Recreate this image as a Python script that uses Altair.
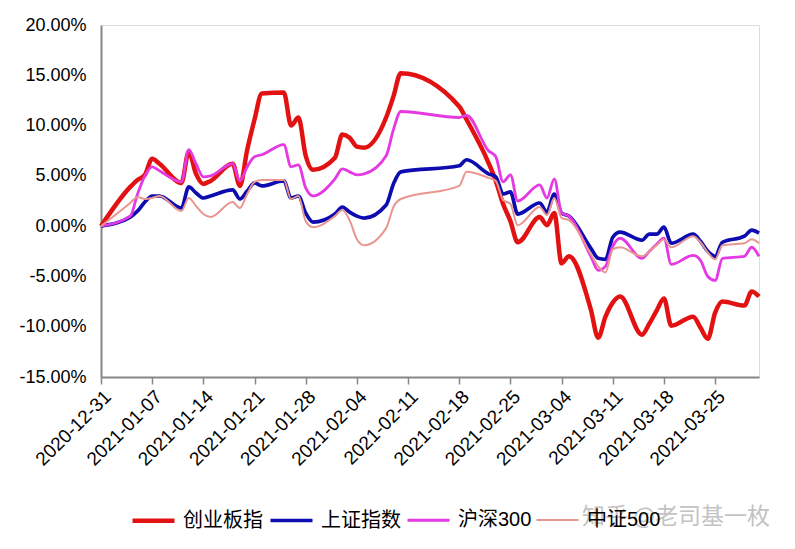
import altair as alt
import pandas as pd

dates = ["2020-12-31",
         "2021-01-04", "2021-01-05", "2021-01-06", "2021-01-07", "2021-01-08",
         "2021-01-11", "2021-01-12", "2021-01-13", "2021-01-14", "2021-01-15",
         "2021-01-18", "2021-01-19", "2021-01-20", "2021-01-21", "2021-01-22",
         "2021-01-25", "2021-01-26", "2021-01-27", "2021-01-28", "2021-01-29",
         "2021-02-01", "2021-02-02", "2021-02-03", "2021-02-04", "2021-02-05",
         "2021-02-08", "2021-02-09", "2021-02-10",
         "2021-02-18", "2021-02-19",
         "2021-02-22", "2021-02-23", "2021-02-24", "2021-02-25", "2021-02-26",
         "2021-03-01", "2021-03-02", "2021-03-03", "2021-03-04", "2021-03-05",
         "2021-03-08", "2021-03-09", "2021-03-10", "2021-03-11", "2021-03-12",
         "2021-03-15", "2021-03-16", "2021-03-17", "2021-03-18", "2021-03-19",
         "2021-03-22", "2021-03-23", "2021-03-24", "2021-03-25", "2021-03-26",
         "2021-03-29", "2021-03-30", "2021-03-31"]

series_names = ["创业板指", "上证指数", "沪深300", "中证500"]

# percent values
cyb = [0,
       3.9, 4.6, 5.1, 6.7, 6.2,
       4.3, 7.4, 5.2, 4.2, 4.5,
       6.2, 4.0, 7.6, 10.6, 13.2,
       13.3, 10.0, 10.8, 7.0, 5.6,
       6.8, 9.1, 8.8, 7.9, 7.8,
       10.8, 12.9, 15.2,
       11.9, 10.6,
       6.3, 4.5, 2.2, 0.5, -1.6,
       0.9, 0.1, 1.3, -3.7, -3.0,
       -8.3, -11.1, -9.0, -7.6, -7.0,
       -10.8, -9.7, -8.4, -7.2, -9.9,
       -9.0, -10.1, -11.2, -8.6, -7.5,
       -7.9, -6.5, -7.0]
sh = [0,
      0.9, 1.5, 2.4, 3.0, 3.0,
      1.8, 3.9, 3.3, 2.8, 3.0,
      3.6, 2.7, 3.5, 4.3, 4.0,
      4.5, 2.8, 3.0, 1.3, 0.4,
      1.2, 1.9, 1.4, 1.0, 0.8,
      2.1, 4.2, 5.4,
      6.0, 6.6,
      5.2, 4.9, 3.2, 3.4, 1.2,
      2.3, 1.4, 3.2, 1.3, 1.0,
      -2.2, -3.2, -3.3, -1.1, -0.6,
      -1.4, -0.8, -0.8, -0.1, -1.7,
      -0.8, -1.5, -2.5, -3.0, -1.6,
      -1.0, -0.4, -0.7]
hs300 = [0,
         1.0, 3.2, 5.0, 5.9, 5.5,
         4.4, 7.6, 6.2, 4.9, 5.0,
         6.2, 4.5, 5.9, 6.9, 7.1,
         8.1, 5.9, 6.1, 3.8, 3.0,
         4.7, 5.7, 5.4, 5.1, 5.2,
         7.0, 9.6, 11.4,
         10.8, 11.0,
         7.5, 6.9, 4.4, 5.1, 2.5,
         4.1, 2.8, 4.7, 1.3, 1.0,
         -3.0, -4.4, -4.0, -2.0, -1.2,
         -3.2, -2.5, -1.8, -1.2, -3.8,
         -2.9, -3.4, -5.0, -5.4, -3.2,
         -3.0, -2.1, -3.0]
zz500 = [0,
         2.3, 2.9, 2.7, 2.8, 3.0,
         1.5, 2.8, 2.0, 1.2, 0.9,
         2.4, 1.8, 3.2, 4.4, 4.6,
         4.6, 2.7, 3.0, 0.5, -0.1,
         1.0, 1.6, 0.6, -1.3, -1.9,
         -0.2, 1.9, 2.7,
         4.0, 5.4,
         4.8, 4.5, 2.6, 2.2, 0.1,
         1.9, 1.1, 2.8, 0.8, 0.6,
         -2.8, -4.0, -4.6, -2.3, -2.1,
         -3.0, -2.5, -1.9, -1.3, -2.1,
         -1.0, -1.6, -2.6, -3.3, -1.9,
         -1.7, -1.3, -1.7]

tick_dates = ["2020-12-31", "2021-01-07", "2021-01-14", "2021-01-21", "2021-01-28",
              "2021-02-04", "2021-02-11", "2021-02-18", "2021-02-25", "2021-03-04",
              "2021-03-11", "2021-03-18", "2021-03-25"]
x_domain = ["2020-12-31", "2021-03-31"]
y_ticks = [-0.15, -0.10, -0.05, 0.0, 0.05, 0.10, 0.15, 0.20]
watermark = ["知乎 @老司基一枚"]

colors = ["#E31212", "#0C0CB0", "#E53AE3", "#E8968F"]
widths = [4.5, 2.0, 2.0, 2.2]

rows = []
for name, vals in zip(series_names, [cyb, sh, hs300, zz500]):
    for d, v in zip(dates, vals):
        rows.append({"date": d, "series": name, "value": v / 100.0})
df = pd.DataFrame(rows)


def to_ms(s):
    return int(pd.Timestamp(s, tz="UTC").timestamp() * 1000)


tick_ms = [to_ms(d) for d in tick_dates]
dom_ms = [to_ms(d) for d in x_domain]

AX = "#868686"
FONT = "Liberation Sans, Noto Sans CJK SC"

legend = alt.Legend(
    title=None, orient="none", legendX=29, legendY=472, direction="horizontal",
    columns=4, symbolType="stroke", symbolSize=1764, labelFontSize=20,
    labelFont=FONT, labelColor="black", labelOffset=6, columnPadding=0,
)

lines = alt.Chart(df).mark_line(interpolate="monotone").encode(
    x=alt.X("date:T",
            scale=alt.Scale(type="utc", domain=dom_ms, nice=False),
            axis=alt.Axis(values=tick_ms,
                          labelExpr="utcFormat(datum.value, '%Y-%m-%d')",
                          labelAngle=-45, labelFontSize=19, labelFont=FONT,
                          labelColor="black", tickSize=7, tickColor=AX,
                          tickWidth=1.5, domainColor=AX, domainWidth=2,
                          grid=False, title=None, labelPadding=3,
                          labelOverlap=False, labelBound=False, labelFlush=False)),
    y=alt.Y("value:Q",
            scale=alt.Scale(domain=[-0.15, 0.20], nice=False, zero=False),
            axis=alt.Axis(values=y_ticks,
                          labelExpr="replace(format(datum.value, '.2%'), '\u2212', '-')",
                          tickSize=0, labelPadding=15, labelFontSize=18,
                          labelFont=FONT, labelColor="black", domainColor=AX,
                          domainWidth=2, grid=False, title=None,
                          labelOverlap=False)),
    color=alt.Color("series:N", scale=alt.Scale(domain=series_names, range=colors),
                    sort=series_names, legend=legend),
    strokeWidth=alt.StrokeWidth("series:N",
                                scale=alt.Scale(domain=series_names, range=widths),
                                sort=series_names, legend=legend),
    order=alt.Order("date:T"),
)

wm = alt.Chart(pd.DataFrame({"t": watermark})).mark_text(
    align="left", baseline="middle", fontSize=23, font="Noto Sans CJK SC",
    color="#bdbdbd", opacity=0.9,
).encode(x=alt.value(481), y=alt.value(492), text="t:N")

chart = alt.layer(lines, wm).properties(
    width=658, height=352,
    autosize=alt.AutoSizeParams(type="none"),
    padding={"left": 93, "top": 17, "right": 28, "bottom": 163},
).configure_view(stroke=None).configure(background="white")

chart.save("out.html", embed_options={"renderer": "svg", "actions": False})
